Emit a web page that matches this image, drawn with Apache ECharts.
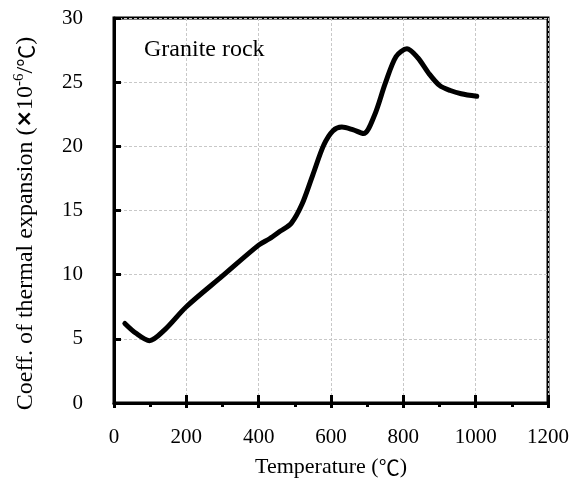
<!DOCTYPE html>
<html>
<head>
<meta charset="utf-8">
<script src="https://cdn.jsdelivr.net/npm/echarts@6/dist/echarts.min.js"></script>
<style>html,body{margin:0;padding:0;background:#fff;}#c{width:581px;height:493px;}</style>
</head>
<body>
<div id="c"></div>
<script>
const temperatures = [30, 60, 98, 140, 200, 300, 400, 430, 460, 490, 520, 550, 580, 605, 630, 660, 690, 720, 750, 780, 810, 840, 870, 900, 930, 960, 1003];
const coefficients = [6.2, 5.45, 4.86, 5.7, 7.5, 9.9, 12.3, 12.8, 13.4, 14.0, 15.5, 17.8, 20.1, 21.2, 21.5, 21.3, 21.0, 22.4, 24.9, 27.0, 27.6, 26.9, 25.7, 24.75, 24.35, 24.1, 23.9];
const xTicks = [0, 200, 400, 600, 800, 1000, 1200];
const yTicks = [0, 5, 10, 15, 20, 25, 30];
const seriesLabel = 'Granite rock';

const font = "'Liberation Serif', 'Times New Roman', serif";
const cjk = "'Noto Sans CJK SC', sans-serif";
const chart = echarts.init(document.getElementById('c'));
chart.setOption({
  animation: false,
  backgroundColor: '#fff',
  title: {
    text: seriesLabel,
    left: 139, top: 33,
    textStyle: { fontFamily: font, fontSize: 24, fontWeight: 'normal', color: '#000' }
  },
  grid: { left: 114, right: 33, top: 18, bottom: 90, show: true, borderColor: '#000', borderWidth: 3, backgroundColor: 'transparent' },
  xAxis: [{
    type: 'value', min: xTicks[0], max: xTicks[xTicks.length - 1], interval: 200,
    name: 'Temperature ({c|℃})', nameLocation: 'middle', nameGap: 53,
    nameTextStyle: { fontFamily: font, fontSize: 22, color: '#000',
      rich: { c: { fontFamily: cjk, fontSize: 21, color: '#000' } } },
    axisLine: { show: true, onZero: false, lineStyle: { color: '#000', width: 3 } },
    axisTick: { show: true, inside: true, length: 8, lineStyle: { color: '#000', width: 3 } },
    axisLabel: { fontFamily: font, fontSize: 21, color: '#000', margin: 24, formatter: v => String(v) },
    splitLine: { show: true, lineStyle: { color: '#c8c8c8', width: 1, type: [3, 2] } }
  }, {
    type: 'value', min: xTicks[0], max: xTicks[xTicks.length - 1], interval: 200, position: 'bottom',
    axisLine: { show: false },
    axisTick: { show: true, inside: false, length: 5, lineStyle: { color: '#000', width: 3 } },
    minorTick: { show: true, splitNumber: 2, length: 4, lineStyle: { color: '#000', width: 3 } },
    axisLabel: { show: false },
    splitLine: { show: false }
  }],
  yAxis: {
    type: 'value', min: yTicks[0], max: yTicks[yTicks.length - 1], interval: 5,
    name: 'Coeff. of thermal expansion ({x|×}10{sup|-6}/{c|℃})', nameLocation: 'middle', nameGap: 75,
    nameTextStyle: {
      fontFamily: font, fontSize: 24, color: '#000', padding: [0, 26, 0, 0],
      rich: {
        x: { fontFamily: "'DejaVu Sans', sans-serif", fontWeight: 'bold', fontSize: 21, color: '#000' },
        sup: { fontFamily: font, fontSize: 15, color: '#000', verticalAlign: 'top', padding: [0, 0, 12, 0] },
        c: { fontFamily: cjk, fontSize: 22, color: '#000' }
      }
    },
    axisLine: { show: true, onZero: false, lineStyle: { color: '#000', width: 3 } },
    axisTick: { show: true, inside: true, length: 7, lineStyle: { color: '#000', width: 3 } },
    axisLabel: { fontFamily: font, fontSize: 21, color: '#000', margin: 31 },
    splitLine: { show: true, lineStyle: { color: '#c8c8c8', width: 1, type: [3, 2] } }
  },
  series: [{
    type: 'line', name: seriesLabel, xAxisIndex: 0,
    data: temperatures.map((t, i) => [t, coefficients[i]]),
    smooth: 0.3, showSymbol: false, symbol: 'none',
    lineStyle: { color: '#000', width: 5, cap: 'round', join: 'round' }
  }]
});
</script>
</body>
</html>
